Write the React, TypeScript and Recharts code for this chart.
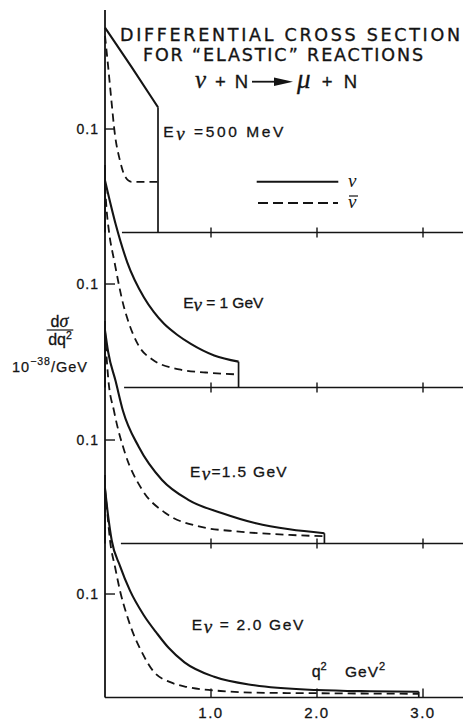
import React from 'react';
import { LineChart, Line, XAxis, YAxis, ReferenceLine } from 'recharts';

// ---- data (q^2 in GeV^2, dσ/dq^2 in 10^-38 cm^2/GeV^2) ----
const energyLabels = ['500 MeV', '1 GeV', '1.5 GeV', '2.0 GeV'];
const xTicks = [1, 2, 3];
const xTickLabels = ['1.0', '2.0', '3.0'];
const yTicks = [0.1];
const yTickLabels = ['0.1'];

// E = 500 MeV
const nu500Q = [0, 0.25, 0.5];
const nu500V = [0.198, 0.16, 0.121];
const nubar500Q = [0, 0.03, 0.06, 0.092, 0.14, 0.19, 0.25, 0.5];
const nubar500V = [0.19, 0.16, 0.128, 0.096, 0.07, 0.054, 0.049, 0.049];

// E = 1 GeV
const nu1Q = [0, 0.1, 0.21, 0.368, 0.46, 0.557, 0.68, 0.81, 1.03, 1.26];
const nu1V = [0.2, 0.158, 0.121, 0.087, 0.073, 0.0615, 0.051, 0.0422, 0.031, 0.025];
const nubar1Q = [0, 0.015, 0.036, 0.09, 0.178, 0.226, 0.32, 0.447, 0.7, 0.95, 1.26];
const nubar1V = [0.195, 0.172, 0.152, 0.121, 0.078, 0.062, 0.04, 0.027, 0.0175, 0.0145, 0.0126];

// E = 1.5 GeV
const nu15Q = [0, 0.03, 0.1, 0.17, 0.318, 0.538, 0.79, 1.107, 1.424, 1.74, 2.07];
const nu15V = [0.206, 0.185, 0.157, 0.128, 0.0935, 0.0614, 0.042, 0.0292, 0.0195, 0.0137, 0.0099];
const nubar15Q = [0, 0.012, 0.03, 0.085, 0.19, 0.35, 0.57, 0.886, 1.265, 1.74, 2.07];
const nubar15V = [0.206, 0.185, 0.16, 0.128, 0.087, 0.052, 0.0295, 0.0165, 0.0115, 0.0083, 0.007];

// E = 2.0 GeV
const nu2Q = [0, 0.03, 0.063, 0.142, 0.237, 0.363, 0.49, 0.6, 0.75, 1.03, 1.41, 2.0, 2.5, 2.96];
const nu2V = [0.202, 0.175, 0.152, 0.127, 0.103, 0.08, 0.062, 0.048, 0.034, 0.02, 0.0118, 0.0072, 0.006, 0.0056];
const nubar2Q = [0, 0.025, 0.047, 0.095, 0.142, 0.205, 0.268, 0.332, 0.459, 0.616, 0.774, 1.09, 1.41, 2.04, 2.96];
const nubar2V = [0.202, 0.175, 0.152, 0.126, 0.103, 0.08, 0.0615, 0.047, 0.025, 0.0148, 0.0102, 0.0063, 0.0047, 0.0041, 0.0036];

// separator line start (q) for the upper panels
const separatorStart = [0.16, 0.18, 0.15];

type Pt = { q: number; v: number };
const zip = (q: number[], v: number[]): Pt[] => q.map((x, i) => ({ q: x, v: v[i] }));

const INK = '#141414';
const FONT = '"Liberation Sans", Arial, sans-serif';
const TITLE_FONT = '"DejaVu Sans", "Liberation Sans", sans-serif';
const SERIF = '"Liberation Serif", "DejaVu Serif", serif';

const CHART_W = 468;
const Y_W = 97;
const PLOT_H = 222.5;
const X_H = 24;
const Y_MAX = 0.215;

const panels = [
  { top: 2, solid: zip(nu500Q, nu500V), dashed: zip(nubar500Q, nubar500V), solidType: 'linear' },
  { top: 156.5, solid: zip(nu1Q, nu1V), dashed: zip(nubar1Q, nubar1V), solidType: 'monotone' },
  { top: 313, solid: zip(nu15Q, nu15V), dashed: zip(nubar15Q, nubar15V), solidType: 'monotone' },
  { top: 466.5, solid: zip(nu2Q, nu2V), dashed: zip(nubar2Q, nubar2V), solidType: 'monotone' },
];

function Panel({ idx }: { idx: number }) {
  const p = panels[idx];
  const last = idx === panels.length - 1;
  const first = idx === 0;
  const end = p.solid[p.solid.length - 1];
  const drop: Pt[] = [
    { q: end.q, v: end.v },
    { q: end.q, v: 0 },
  ];
  const bottomTick = (props: any) => {
    const { x, y, payload } = props;
    const i = xTicks.indexOf(payload.value);
    return (
      <g>
        <line x1={x} x2={x} y1={y - (last ? 9 : 5)} y2={y + (last ? 0 : 5)} stroke={INK} strokeWidth={1.4} />
        {last && (
          <text x={x} y={y + 20} textAnchor="middle" fontFamily={FONT} fontSize={15} letterSpacing={1.5} fill={INK} stroke={INK} strokeWidth={0.3}>
            {xTickLabels[i]}
          </text>
        )}
      </g>
    );
  };
  const topTick = (props: any) => {
    const { x, y } = props;
    return <line x1={x} x2={x} y1={y} y2={y + 10} stroke={INK} strokeWidth={1.4} />;
  };
  const leftTick = (props: any) => {
    const { x, y, payload } = props;
    const i = yTicks.indexOf(payload.value);
    return (
      <g>
        <line x1={x} x2={x + 10} y1={y} y2={y} stroke={INK} strokeWidth={1.4} />
        <text x={x - 6} y={y + 5} textAnchor="end" fontFamily={FONT} fontSize={14} letterSpacing={1} fill={INK} stroke={INK} strokeWidth={0.3}>
          {yTickLabels[i]}
        </text>
      </g>
    );
  };
  const rightTick = (props: any) => {
    const { x, y } = props;
    return <line x1={x - 17} x2={x} y1={y} y2={y} stroke={INK} strokeWidth={1.4} />;
  };
  return (
    <div style={{ position: 'absolute', left: 0, top: p.top }}>
      <LineChart width={CHART_W} height={PLOT_H + X_H} margin={{ top: 0, right: 0, bottom: 0, left: 0 }}>
        <XAxis
          xAxisId="b"
          dataKey="q"
          type="number"
          domain={[0, 3.5]}
          ticks={xTicks}
          height={X_H}
          tickSize={0}
          tickMargin={0}
          tickLine={false}
          axisLine={last ? { stroke: INK, strokeWidth: 1.6 } : false}
          tick={bottomTick}
          interval={0}
        />
        {first && (
          <XAxis
            xAxisId="t"
            orientation="top"
            type="number"
            domain={[0, 3.5]}
            allowDataOverflow
            ticks={xTicks}
            height={0}
            tickSize={0}
            tickMargin={0}
            tickLine={false}
            axisLine={{ stroke: INK, strokeWidth: 1.6 }}
            tick={topTick}
            interval={0}
          />
        )}
        <YAxis
          yAxisId="l"
          type="number"
          domain={[0, Y_MAX]}
          ticks={yTicks}
          width={Y_W}
          tickSize={0}
          tickMargin={0}
          tickLine={false}
          axisLine={{ stroke: INK, strokeWidth: 1.8 }}
          tick={leftTick}
          interval={0}
        />
        <YAxis
          yAxisId="r"
          orientation="right"
          type="number"
          domain={[0, Y_MAX]}
          allowDataOverflow
          ticks={yTicks}
          width={0}
          tickSize={0}
          tickMargin={0}
          tickLine={false}
          axisLine={false}
          tick={rightTick}
          interval={0}
        />
        {!last && (
          <ReferenceLine
            xAxisId="b"
            yAxisId="l"
            segment={[
              { x: separatorStart[idx], y: 0 },
              { x: 3.5, y: 0 },
            ]}
            stroke={INK}
            strokeWidth={1.5}
          />
        )}
        <Line
          xAxisId="b"
          yAxisId="l"
          data={p.dashed}
          dataKey="v"
          type="monotone"
          stroke={INK}
          strokeWidth={1.8}
          strokeDasharray="8 5"
          dot={false}
          isAnimationActive={false}
        />
        <Line
          xAxisId="b"
          yAxisId="l"
          data={p.solid}
          dataKey="v"
          type={p.solidType as any}
          stroke={INK}
          strokeWidth={2.1}
          dot={false}
          isAnimationActive={false}
        />
        <Line
          xAxisId="b"
          yAxisId="l"
          data={drop}
          dataKey="v"
          type="linear"
          stroke={INK}
          strokeWidth={1.7}
          dot={false}
          isAnimationActive={false}
        />
      </LineChart>
    </div>
  );
}

function Nu({ size = 19 }: { size?: number }) {
  return (
    <tspan fontFamily={SERIF} fontStyle="italic" fontSize={size}>
      ν
    </tspan>
  );
}

function Annotations() {
  const eLabel = (i: number, x: number, y: number, len: number, eq: string) => (
    <text x={x} y={y} fontSize={15.5} textLength={len} lengthAdjust="spacing" fill={INK} stroke={INK} strokeWidth={0.3}>
      E
      <tspan dy={3} fontFamily={SERIF} fontStyle="italic" fontSize={19}>
        ν
      </tspan>
      <tspan dy={-3}>{eq + energyLabels[i]}</tspan>
    </text>
  );
  return (
    <svg
      width={463}
      height={713}
      style={{ position: 'absolute', left: 0, top: 0, pointerEvents: 'none' }}
      fontFamily={FONT}
      fill={INK}
    >
      <text x={112} y={33} fontFamily={TITLE_FONT} fontSize={17.5} textLength={340} lengthAdjust="spacing" stroke={INK} strokeWidth={0.35}>
        DIFFERENTIAL CROSS SECTION
      </text>
      <text x={135} y={52.5} fontFamily={TITLE_FONT} fontSize={17.5} textLength={280} lengthAdjust="spacing" stroke={INK} strokeWidth={0.35}>
        FOR “ELASTIC” REACTIONS
      </text>
      <text x={187} y={80.3} fontSize={18.5} textLength={53} lengthAdjust="spacing" stroke={INK} strokeWidth={0.3}>
        <Nu size={25} /> + N
      </text>
      <line x1={244} x2={270} y1={73.7} y2={73.7} stroke={INK} strokeWidth={1.8} />
      <polygon points="266,69.5 285,73.7 266,78" fill={INK} />
      <text x={289} y={80.3} fontSize={18.5} textLength={60} lengthAdjust="spacing" stroke={INK} strokeWidth={0.3}>
        <tspan fontFamily={SERIF} fontStyle="italic" fontSize={27}>
          μ
        </tspan>{' '}
        + N
      </text>

      {eLabel(0, 155.3, 128.7, 120, ' =')}
      {eLabel(1, 175.3, 300, 80, ' = ')}
      {eLabel(2, 182, 468.7, 96.7, '=')}
      {eLabel(3, 183.7, 622, 111.7, ' = ')}

      {/* legend */}
      <line x1={248.7} x2={330.3} y1={173.7} y2={173.7} stroke={INK} strokeWidth={2} />
      <text x={340} y={178.5} fontFamily={SERIF} fontStyle="italic" fontSize={19}>
        ν
      </text>
      <line x1={250} x2={330} y1={195} y2={195} stroke={INK} strokeWidth={1.8} strokeDasharray="10 5" />
      <text x={340} y={199.5} fontFamily={SERIF} fontStyle="italic" fontSize={19}>
        ν
      </text>
      <line x1={341} x2={350} y1={188} y2={188} stroke={INK} strokeWidth={1.2} />

      {/* axis title */}
      <text x={303.7} y={668.7} fontSize={16} stroke={INK} strokeWidth={0.3}>
        q
        <tspan dy={-7} fontSize={11}>
          2
        </tspan>
      </text>
      <text x={337} y={668.7} fontSize={15.5} letterSpacing={1} stroke={INK} strokeWidth={0.3}>
        GeV
        <tspan dy={-7} fontSize={11}>
          2
        </tspan>
      </text>

      {/* y label */}
      <text x={51.5} y={318.7} textAnchor="middle" fontSize={16} stroke={INK} strokeWidth={0.3}>
        d
        <tspan fontFamily={SERIF} fontStyle="italic" fontSize={18}>
          σ
        </tspan>
      </text>
      <line x1={38.7} x2={65.3} y1={322} y2={322} stroke={INK} strokeWidth={1.2} />
      <text x={52} y={337} textAnchor="middle" fontSize={16} stroke={INK} strokeWidth={0.3}>
        dq
        <tspan dy={-6} fontSize={10.5}>
          2
        </tspan>
      </text>
      <text x={4} y={363.7} fontSize={14.5} textLength={75} lengthAdjust="spacing" stroke={INK} strokeWidth={0.25}>
        10
        <tspan dy={-7} fontSize={10.5}>
          −38
        </tspan>
        <tspan dy={7}>/GeV</tspan>
      </text>
    </svg>
  );
}

export default function App() {
  return (
    <div style={{ position: 'relative', width: 463, height: 713, overflow: 'hidden', background: '#fff' }}>
      {panels.map((_, i) => (
        <Panel key={i} idx={i} />
      ))}
      <Annotations />
    </div>
  );
}
